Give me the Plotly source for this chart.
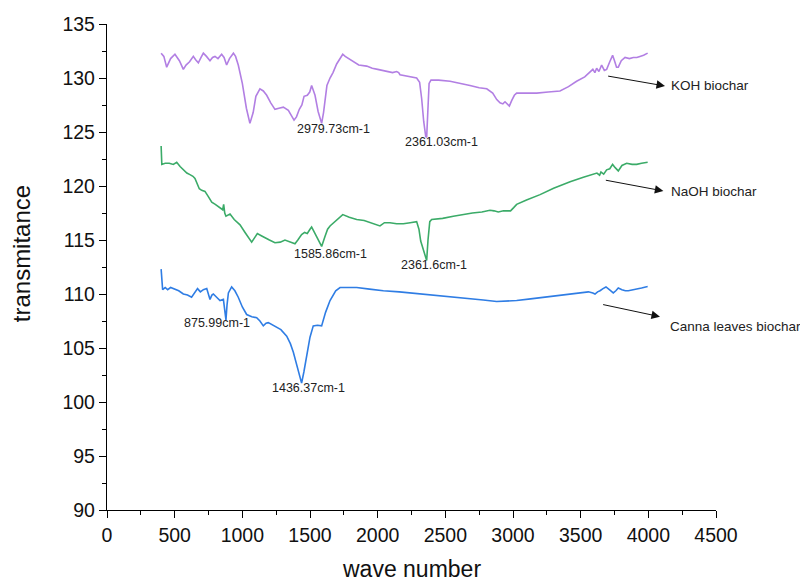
import plotly.graph_objects as go

# FTIR spectra of the three biochars (wave number vs transmitance)
koh_x = [400, 420, 441, 470, 502, 535, 564, 584, 610, 638, 655, 675, 695, 712, 735, 761, 780, 798, 820, 847,
         865, 884, 905, 934, 950, 970, 1000, 1030, 1056, 1080, 1100, 1130, 1155, 1180, 1210, 1241, 1270, 1303,
         1340, 1365, 1382, 1400, 1421, 1440, 1456, 1480, 1498, 1512, 1525, 1537, 1560, 1586, 1600, 1625, 1648,
         1670, 1697, 1720, 1742, 1760, 1796, 1830, 1860, 1919, 1960, 2000, 2042, 2080, 2110, 2140, 2155, 2165,
         2200, 2250, 2288, 2310, 2325, 2340, 2355, 2362, 2370, 2380, 2394, 2450, 2535, 2620, 2682, 2750, 2806,
         2850, 2880, 2904, 2925, 2941, 2960, 2973, 2990, 3010, 3027, 3100, 3175, 3260, 3347, 3410, 3470, 3530,
         3569, 3590, 3605, 3618, 3635, 3655, 3675, 3692, 3715, 3736, 3750, 3765, 3778, 3800, 3828, 3860, 3889,
         3915, 3938, 3965, 3995]
koh_y = [132.3, 132.0, 131.0, 131.8, 132.2, 131.6, 130.8, 131.2, 131.5, 132.0, 131.7, 131.4, 131.9, 132.3,
         132.0, 131.6, 131.9, 132.0, 131.8, 132.2, 131.9, 131.2, 131.8, 132.3, 132.0, 131.2, 129.5, 127.2,
         125.8, 126.8, 128.3, 129.0, 128.8, 128.4, 127.7, 127.1, 127.2, 127.3, 127.0, 126.5, 126.1, 126.4,
         127.1, 127.5, 128.3, 128.4, 128.7, 129.3, 128.9, 128.4, 126.9, 125.8, 126.8, 129.3, 130.0, 130.5,
         131.3, 131.8, 132.2, 132.0, 131.7, 131.4, 131.2, 131.1, 130.9, 130.8, 130.7, 130.6, 130.5, 130.6,
         130.5, 130.3, 130.2, 130.1, 130.0, 129.6, 128.1, 126.0, 124.6, 124.5, 126.5, 129.5, 129.8, 129.8,
         129.7, 129.5, 129.3, 129.1, 129.0, 128.6, 128.0, 127.7, 127.6, 127.8, 127.5, 127.4, 127.9, 128.4,
         128.6, 128.6, 128.6, 128.7, 128.8, 129.2, 129.7, 130.1, 130.5, 130.8, 130.5, 130.9, 130.6, 131.2,
         130.7, 130.8, 131.5, 132.1, 131.6, 131.0, 131.0, 131.6, 131.9, 131.8, 131.9, 131.9, 132.0, 132.1,
         132.3]

naoh_x = [400, 405, 430, 460, 490, 515, 540, 564, 590, 613, 635, 650, 665, 682, 700, 724, 750, 774, 800, 835,
          855, 862, 870, 879, 895, 909, 940, 983, 1020, 1050, 1069, 1090, 1111, 1140, 1167, 1200, 1241, 1280,
          1315, 1352, 1389, 1410, 1438, 1460, 1480, 1500, 1512, 1525, 1537, 1560, 1586, 1610, 1630, 1648, 1700,
          1742, 1790, 1845, 1900, 1943, 1980, 2017, 2050, 2091, 2140, 2190, 2240, 2288, 2305, 2318, 2340, 2355,
          2362, 2372, 2385, 2399, 2480, 2559, 2640, 2700, 2770, 2830, 2860, 2891, 2930, 2982, 3005, 3027, 3100,
          3200, 3300, 3422, 3520, 3594, 3620, 3640, 3650, 3670, 3692, 3715, 3736, 3755, 3778, 3805, 3840, 3880,
          3914, 3950, 3995]
naoh_y = [123.7, 122.0, 122.1, 122.1, 122.0, 122.2, 121.8, 121.5, 121.2, 121.05, 120.9, 120.7, 120.2, 119.75,
          119.6, 119.5, 119.0, 118.5, 118.3, 118.0, 117.8, 118.3, 117.5, 117.2, 117.3, 117.4, 116.9, 116.4,
          115.7, 115.1, 114.8, 115.2, 115.6, 115.4, 115.2, 115.0, 114.75, 114.8, 115.0, 114.8, 114.65, 115.0,
          115.5, 115.7, 115.6, 116.0, 116.2, 115.9, 115.6, 114.9, 114.4, 115.3, 116.0, 116.3, 116.9, 117.35,
          117.1, 116.9, 116.8, 116.6, 116.5, 116.3, 116.6, 116.6, 116.5, 116.5, 116.6, 116.7, 116.0, 114.9,
          114.0, 113.2, 113.1, 115.0, 116.7, 116.9, 117.0, 117.2, 117.4, 117.5, 117.6, 117.75, 117.7, 117.6,
          117.7, 117.7, 118.0, 118.3, 118.7, 119.2, 119.8, 120.4, 120.8, 121.1, 121.2, 121.0, 121.3, 121.1,
          121.5, 121.6, 122.0, 121.7, 121.4, 121.9, 122.1, 122.0, 122.0, 122.1, 122.2]

canna_x = [400, 405, 411, 430, 448, 470, 497, 530, 564, 595, 625, 645, 669, 690, 712, 737, 750, 761, 775, 786,
           810, 835, 860, 870, 879, 887, 897, 921, 945, 970, 1000, 1032, 1070, 1106, 1130, 1155, 1175, 1192,
           1215, 1241, 1285, 1328, 1355, 1377, 1400, 1420, 1438, 1455, 1475, 1500, 1524, 1555, 1586, 1615,
           1648, 1690, 1722, 1780, 1845, 1940, 2042, 2160, 2288, 2420, 2535, 2682, 2780, 2879, 2950, 3027,
           3130, 3224, 3330, 3422, 3500, 3557, 3590, 3606, 3625, 3643, 3665, 3687, 3712, 3741, 3760, 3778,
           3805, 3830, 3852, 3900, 3950, 3995]
canna_y = [112.3, 111.0, 110.4, 110.6, 110.4, 110.6, 110.45, 110.3, 110.0, 109.9, 109.7, 110.1, 110.5, 110.2,
           110.4, 110.5, 110.0, 109.5, 109.9, 110.0, 109.7, 109.4, 109.5, 108.5, 107.6, 109.0, 110.1, 110.65,
           110.3, 109.7, 108.8, 108.1, 107.9, 107.8, 107.5, 107.05, 107.3, 107.35, 107.2, 107.05, 106.7, 106.1,
           105.4, 104.6, 103.6, 102.6, 101.75, 102.8, 104.1, 106.0, 107.05, 107.1, 107.05, 108.3, 109.4, 110.3,
           110.6, 110.6, 110.6, 110.45, 110.3, 110.2, 110.05, 109.9, 109.8, 109.6, 109.45, 109.3, 109.35, 109.4,
           109.55, 109.7, 109.9, 110.05, 110.15, 110.2, 110.1, 110.0, 110.2, 110.3, 110.5, 110.65, 110.4, 110.1,
           110.3, 110.55, 110.4, 110.3, 110.3, 110.4, 110.55, 110.7]

# Peak labels: text, x, y
peak_text = ["2979.73cm-1", "2361.03cm-1", "1585.86cm-1", "2361.6cm-1", "875.99cm-1", "1436.37cm-1"]
peak_x = [1670, 2468, 1654, 2417, 816, 1486]
peak_y = [125.25, 124.1, 113.7, 112.7, 107.3, 101.3]

# Series labels with pointer arrows
series_names = ["KOH biochar", "NaOH biochar", "Canna leaves biochar"]
label_x = [4152, 4152, 4145]
label_y = [129.35, 119.5, 107.0]
arrow_tail_x = [3692, 3675, 3655]
arrow_tail_y = [130.2, 120.56, 109.05]
arrow_head_x = [4123, 4111, 4086]
arrow_head_y = [129.26, 119.54, 107.9]

colors = ["#b27fe3", "#3bab68", "#2f7de4"]
FONT = "Arial, Liberation Sans, sans-serif"

fig = go.Figure()
for xs, ys, c, n in [(koh_x, koh_y, colors[0], series_names[0]),
                     (naoh_x, naoh_y, colors[1], series_names[1]),
                     (canna_x, canna_y, colors[2], series_names[2])]:
    fig.add_trace(go.Scatter(x=xs, y=ys, mode="lines", name=n,
                             line=dict(color=c, width=1.6), showlegend=False))

annotations = []
for t, x, y in zip(peak_text, peak_x, peak_y):
    annotations.append(dict(x=x, y=y, xref="x", yref="y", text=t, showarrow=False,
                            font=dict(family=FONT, size=12.5, color="#222222"),
                            xanchor="center", yanchor="middle"))
for i, n in enumerate(series_names):
    annotations.append(dict(x=arrow_head_x[i], y=arrow_head_y[i], ax=arrow_tail_x[i], ay=arrow_tail_y[i],
                            xref="x", yref="y", axref="x", ayref="y", text="", showarrow=True,
                            arrowhead=2, arrowsize=1.7, arrowwidth=1, arrowcolor="#111111",
                            standoff=0, startstandoff=0))
    annotations.append(dict(x=label_x[i], y=label_y[i], xref="x", yref="y", text=n, showarrow=False,
                            font=dict(family=FONT, size=13.5, color="#222222"),
                            xanchor="left", yanchor="middle"))

# Axis titles
annotations.append(dict(x=0.5, y=-0.122, xref="paper", yref="paper", text="wave number", showarrow=False,
                        font=dict(family=FONT, size=23, color="#111111"),
                        xanchor="center", yanchor="middle"))
annotations.append(dict(x=-0.139, y=0.527, xref="paper", yref="paper", text="transmitance", showarrow=False,
                        textangle=-90, font=dict(family=FONT, size=24, color="#111111"),
                        xanchor="center", yanchor="middle"))

fig.update_layout(
    width=800, height=584,
    margin=dict(l=107, r=84, t=24, b=74),
    paper_bgcolor="white", plot_bgcolor="white",
    annotations=annotations,
    font=dict(family=FONT, color="#111111"),
)
fig.update_xaxes(range=[0, 4500], tick0=0, dtick=500, ticks="outside", ticklen=7, tickwidth=1.2,
                 tickcolor="black", showline=True, linecolor="black", linewidth=1.3,
                 showgrid=False, zeroline=False, tickfont=dict(family=FONT, size=19.5, color="#111111"),
                 minor=dict(dtick=250, ticks="outside", ticklen=4, tickwidth=1.2, tickcolor="black",
                            showgrid=False))
fig.update_yaxes(range=[90, 135], tick0=90, dtick=5, ticks="outside", ticklen=7, tickwidth=1.2,
                 tickcolor="black", showline=True, linecolor="black", linewidth=1.3,
                 showgrid=False, zeroline=False, tickfont=dict(family=FONT, size=19.5, color="#111111"),
                 minor=dict(dtick=2.5, ticks="outside", ticklen=4, tickwidth=1.2, tickcolor="black",
                            showgrid=False))

fig.write_html("out.html")
